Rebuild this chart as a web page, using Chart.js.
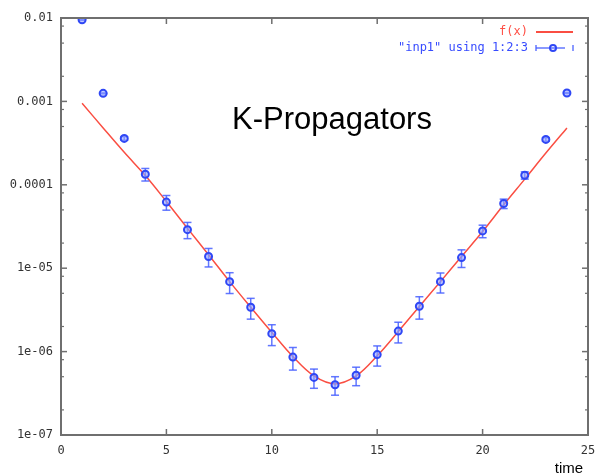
<!DOCTYPE html>
<html>
<head>
<meta charset="utf-8">
<script src="https://cdn.jsdelivr.net/npm/chart.js@4.4.0/dist/chart.umd.min.js"></script>
<style>
    body { margin: 0; background: #fff; }
    #chart { display: block; }
</style>
</head>
<body>
<canvas id="chart" width="610" height="475"></canvas>
<script>
// data
const times = [1, 2, 3, 4, 5, 6, 7, 8, 9, 10, 11, 12, 13, 14, 15, 16, 17, 18, 19, 20, 21, 22, 23, 24];
const propagator = [9.5e-3, 1.25e-3, 3.6e-4, 1.34e-4, 6.2e-5, 2.9e-5, 1.38e-5, 6.9e-6, 3.4e-6, 1.64e-6, 8.6e-7, 4.9e-7,
    4.0e-7, 5.2e-7, 9.2e-7, 1.76e-6, 3.5e-6, 6.9e-6, 1.34e-5, 2.8e-5, 5.96e-5, 1.3e-4, 3.5e-4, 1.26e-3];
const propErr = [1e-4, 1.3e-5, 1.8e-5, 2.3e-5, 1.24e-5, 6.4e-6, 3.45e-6, 1.93e-6, 9.5e-7, 4.6e-7, 2.6e-7, 1.27e-7,
    1.0e-7, 1.3e-7, 2.5e-7, 4.9e-7, 1.05e-6, 1.86e-6, 3.2e-6, 4.8e-6, 7.7e-6, 1.3e-5, 1.75e-5, 1.3e-5];
const fitValues = [9.5e-4, 4.8e-4, 2.45e-4, 1.29e-4, 6.3e-5, 3.0e-5, 1.45e-5, 6.9e-6, 3.4e-6, 1.7e-6, 8.7e-7, 5.1e-7,
    4.1e-7, 5.1e-7, 8.9e-7, 1.74e-6, 3.47e-6, 6.9e-6, 1.38e-5, 2.75e-5, 5.75e-5, 1.17e-4, 2.4e-4, 4.8e-4];

const yTickValues = [1e-7, 1e-6, 1e-5, 1e-4, 1e-3, 1e-2];
const yTickLabels = ['1e-07', '1e-06', '1e-05', '0.0001', '0.001', '0.01'];
const yMinorTicks = [2e-7, 5e-7, 8e-7, 2e-6, 5e-6, 8e-6, 2e-5, 5e-5, 8e-5, 2e-4, 5e-4, 8e-4, 2e-3, 5e-3, 8e-3];
const xTickValues = [0, 5, 10, 15, 20, 25];

const titleText = 'K-Propagators';
const xLabel = 'time';
const legendFit = 'f(x)';
const legendData = '"inp1" using 1:2:3';

const pointBlue = '#2f47f5';
const barBlue = 'rgba(70,95,255,0.85)';
const fitRed = 'rgb(250,78,66)';
const frameGray = '#6f6f6f';

function line(ctx, x1, y1, x2, y2) {
    ctx.beginPath();
    ctx.moveTo(x1, y1);
    ctx.lineTo(x2, y2);
    ctx.stroke();
}

// error bars, drawn right after the fit line so the points sit on top
const errorBars = {
    id: 'errorBars',
    afterDatasetDraw(chart, args) {
        if (args.index !== 1) return;
        let ctx = chart.ctx;
        let xs = chart.scales.x, ys = chart.scales.y;
        ctx.save();
        ctx.strokeStyle = barBlue;
        ctx.lineWidth = 1.5;
        for (let i = 0; i < times.length; i++) {
            let x = xs.getPixelForValue(times[i]);
            let yTop = ys.getPixelForValue(propagator[i] + propErr[i]);
            let yBot = ys.getPixelForValue(propagator[i] - propErr[i]);
            line(ctx, x, yTop, x, yBot);
            line(ctx, x - 4, yTop, x + 4, yTop);
            line(ctx, x - 4, yBot, x + 4, yBot);
        }
        ctx.restore();
    }
};

// gnuplot style frame with inward tics, title text, axis label and key
const frame = {
    id: 'frame',
    afterDraw(chart) {
        let ctx = chart.ctx;
        let a = chart.chartArea;
        let xs = chart.scales.x, ys = chart.scales.y;
        ctx.save();
        ctx.strokeStyle = frameGray;
        ctx.lineWidth = 1.5;
        for (let v of xTickValues.slice(1, -1)) {
            let x = xs.getPixelForValue(v);
            line(ctx, x, a.bottom, x, a.bottom - 6);
            line(ctx, x, a.top, x, a.top + 6);
        }
        for (let v of yTickValues) {
            let y = ys.getPixelForValue(v);
            line(ctx, a.left, y, a.left + 6, y);
            line(ctx, a.right, y, a.right - 6, y);
        }
        ctx.lineWidth = 1.2;
        for (let v of yMinorTicks) {
            let y = ys.getPixelForValue(v);
            line(ctx, a.left, y, a.left + 3, y);
            line(ctx, a.right, y, a.right - 3, y);
        }
        ctx.lineWidth = 2;
        ctx.strokeRect(a.left, a.top, a.right - a.left, a.bottom - a.top);

        ctx.fillStyle = '#000';
        ctx.font = '31px "Liberation Sans", Arial, sans-serif';
        ctx.textAlign = 'center';
        ctx.textBaseline = 'alphabetic';
        ctx.fillText(titleText, 332, 129);

        ctx.font = '15px "Liberation Sans", Arial, sans-serif';
        ctx.fillText(xLabel, 569, 473);

        // key
        ctx.font = '12px "DejaVu Sans Mono", monospace';
        ctx.textAlign = 'right';
        ctx.textBaseline = 'middle';
        ctx.fillStyle = 'rgb(255,80,70)';
        ctx.fillText(legendFit, 528, 32);
        ctx.fillStyle = 'rgb(55,75,255)';
        ctx.fillText(legendData, 528, 48);

        ctx.strokeStyle = fitRed;
        ctx.lineWidth = 2;
        line(ctx, 536, 32, 573, 32);

        ctx.strokeStyle = barBlue;
        ctx.lineWidth = 1.5;
        line(ctx, 536, 48, 565, 48);
        line(ctx, 536, 45, 536, 51);
        line(ctx, 573, 45, 573, 51);
        ctx.strokeStyle = pointBlue;
        ctx.lineWidth = 2;
        ctx.beginPath();
        ctx.arc(553, 48, 3, 0, Math.PI * 2);
        ctx.stroke();
        ctx.restore();
    }
};

new Chart(document.getElementById('chart'), {
    type: 'line',
    data: {
        labels: times,
        datasets: [
            {
                label: legendData,
                data: times.map((t, i) => ({x: t, y: propagator[i]})),
                showLine: false,
                pointStyle: 'circle',
                pointRadius: 3.5,
                pointBorderWidth: 2,
                borderColor: pointBlue,
                backgroundColor: 'rgba(150,165,255,0.6)'
            },
            {
                label: legendFit,
                data: times.map((t, i) => ({x: t, y: fitValues[i]})),
                borderColor: fitRed,
                borderWidth: 1.5,
                pointRadius: 0,
                tension: 0.35,
                fill: false
            }
        ]
    },
    options: {
        responsive: false,
        animation: false,
        layout: {padding: {top: 18, right: 22, left: 0, bottom: 0}},
        plugins: {
            legend: {display: false},
            tooltip: {enabled: false},
            title: {display: false}
        },
        scales: {
            x: {
                type: 'linear',
                min: 0,
                max: 25,
                grid: {display: false, drawTicks: false},
                border: {display: false},
                afterBuildTicks: (scale) => {
                    scale.ticks = xTickValues.map(v => ({value: v}));
                },
                afterFit: (scale) => { scale.height = 40; },
                ticks: {
                    padding: 9,
                    maxRotation: 0,
                    color: '#333',
                    font: {family: '"DejaVu Sans Mono", monospace', size: 12},
                    callback: (v) => String(v)
                }
            },
            y: {
                type: 'logarithmic',
                min: 1e-7,
                max: 1e-2,
                grid: {display: false, drawTicks: false},
                border: {display: false},
                afterBuildTicks: (scale) => {
                    scale.ticks = yTickValues.map(v => ({value: v}));
                },
                afterFit: (scale) => { scale.width = 61; },
                ticks: {
                    padding: 8,
                    color: '#333',
                    font: {family: '"DejaVu Sans Mono", monospace', size: 12},
                    callback: (v, i) => yTickLabels[i]
                }
            }
        }
    },
    plugins: [errorBars, frame]
});
</script>
</body>
</html>
